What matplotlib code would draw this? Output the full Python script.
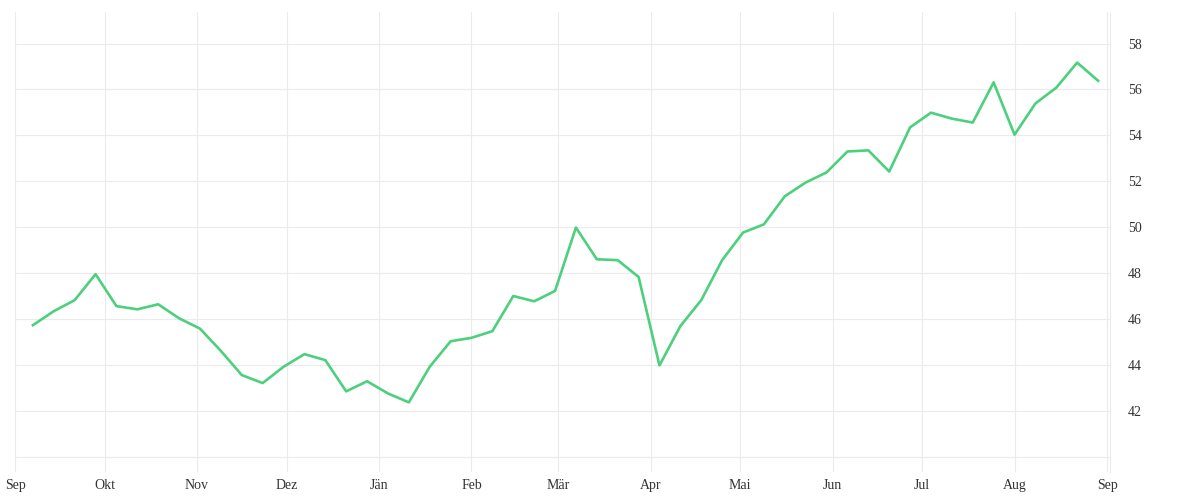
import matplotlib
matplotlib.use("Agg")
import matplotlib.pyplot as plt
import pandas as pd

# weekly values
start_date = "2023-09-07"
values = [45.74, 46.35, 46.83, 47.96, 46.57, 46.43, 46.65, 46.04, 45.59, 44.62,
          43.57, 43.22, 43.93, 44.48, 44.22, 42.86, 43.30, 42.77, 42.38, 43.93,
          45.04, 45.19, 45.48, 47.01, 46.78, 47.23, 49.99, 48.61, 48.57, 47.84,
          43.99, 45.70, 46.83, 48.57, 49.77, 50.13, 51.35, 51.95, 52.39, 53.30,
          53.35, 52.43, 54.35, 54.99, 54.73, 54.56, 56.31, 54.03, 55.39, 56.08,
          57.17, 56.38]
month_labels = ["Sep", "Okt", "Nov", "Dez", "Jän", "Feb", "Mär", "Apr",
                "Mai", "Jun", "Jul", "Aug", "Sep"]
y_ticks = [42, 44, 46, 48, 50, 52, 54, 56, 58]

dates = pd.date_range(start_date, periods=len(values), freq="7D")
month_ticks = pd.date_range("2023-09-01", periods=len(month_labels), freq="MS")

fig = plt.figure(figsize=(12, 5), dpi=100)
ax = fig.add_axes([0.0125, 0.056, 0.9125, 0.919])

ax.plot(dates, values, color="#4cd07d", linewidth=1.9)

ax.set_xlim(pd.Timestamp("2023-09-01"), pd.Timestamp("2024-09-02"))
ax.set_ylim(39.35, 59.35)

ax.set_xticks(month_ticks)
ax.set_xticklabels(month_labels)
ax.set_yticks([40] + y_ticks)
ax.set_yticklabels([""] + [str(v) for v in y_ticks])

ax.yaxis.tick_right()
ax.grid(True, color="#ebebeb", linewidth=0.8)
ax.set_axisbelow(True)

for side in ["top", "bottom", "left"]:
    ax.spines[side].set_visible(False)
ax.spines["right"].set_color("#ebebeb")
ax.spines["right"].set_linewidth(0.8)

ax.tick_params(axis="both", length=0, labelsize=10, labelcolor="#333333")
ax.tick_params(axis="y", pad=13)
ax.tick_params(axis="x", pad=5)
for lbl in ax.get_xticklabels() + ax.get_yticklabels():
    lbl.set_family("Liberation Serif")

fig.savefig("out.png", dpi=100, facecolor="white")
